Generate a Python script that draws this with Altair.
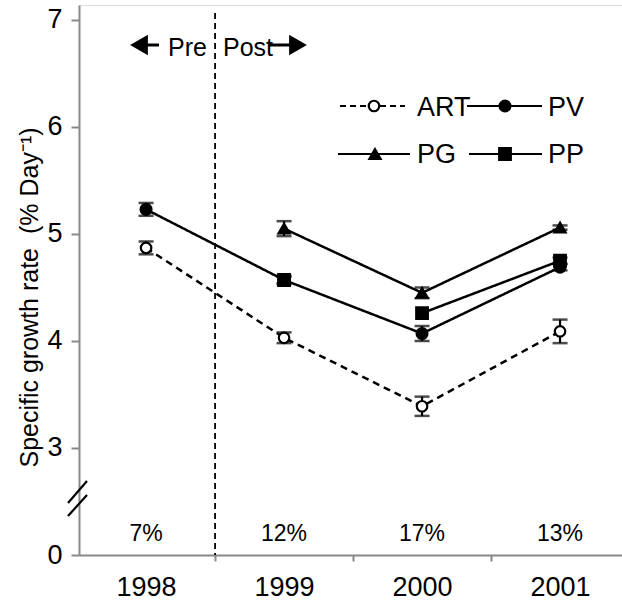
import altair as alt
import pandas as pd

# Specific growth rate per year for each group (mean and error)
years = [1998, 1999, 2000, 2001]
series_names = ["ART", "PV", "PG", "PP"]
art = [4.87, 4.03, 3.39, 4.09]
art_err = [0.06, 0.05, 0.09, 0.11]
pv = [5.23, 4.57, 4.07, 4.69]
pv_err = [0.06, 0.03, 0.07, 0.03]
pg = [None, 5.05, 4.45, 5.06]
pg_err = [None, 0.07, 0.05, 0.02]
pp = [None, 4.57, 4.26, 4.75]
pp_err = [None, 0.04, 0.0, 0.03]
pct_labels = ["7%", "12%", "17%", "13%"]
boundary_year = 1998.5  # pre / post split

FONT = "Liberation Sans"

rows = []
for name, vals, errs in [("ART", art, art_err), ("PV", pv, pv_err),
                         ("PG", pg, pg_err), ("PP", pp, pp_err)]:
    for i, (yr, v, e) in enumerate(zip(years, vals, errs)):
        if v is None:
            continue
        # PP is only joined from 2000 onward
        joined = not (name == "PP" and yr == 1999)
        rows.append({"series": name, "year": yr, "value": v,
                     "lo": v - e, "hi": v + e, "err": e,
                     "joined": joined, "order": i})
df = pd.DataFrame(rows)

xscale = alt.Scale(domain=[1997.514, 2001.449], nice=False, zero=False)
xaxis = alt.Axis(
    values=[1998, 1998.5, 1999, 1999.5, 2000, 2000.5, 2001],
    labelExpr="datum.value % 1 == 0 ? toString(datum.value) : ''",
    tickOpacity={"condition": {"test": "datum.value % 1 == 0", "value": 0}, "value": 1},
    title=None, grid=False, tickSize=6, tickWidth=2, domainWidth=2,
    labelFontSize=27, labelPadding=13, labelFlush=False, labelOverlap=False,
    labelBound=False,
)
yscale = alt.Scale(domain=[2, 7.14], nice=False, zero=False)
yaxis = alt.Axis(
    values=[2, 3, 4, 5, 6, 7],
    labelExpr="datum.value == 2 ? '0' : datum.label",
    title="Specific growth rate\u00a0\u00a0(% Day⁻¹)",
    titleFontSize=25, titleFontWeight="normal", titleX=-42, titleY=292,
    titleAngle=270, titleAlign="center", titleBaseline="alphabetic",
    tickSize=8, tickWidth=2, domainWidth=2, labelFontSize=27, labelPadding=9,
    grid=False,
)


def X(field="year"):
    return alt.X(f"{field}:Q", scale=xscale, axis=xaxis)


def Y(field):
    return alt.Y(f"{field}:Q", scale=yscale, axis=yaxis)


dash_scale = alt.Scale(domain=series_names, range=[[7, 5], [1, 0], [1, 0], [1, 0]])
shape_scale = alt.Scale(domain=series_names, range=["circle", "circle", "triangle-up", "square"])
fill_scale = alt.Scale(domain=series_names, range=["white", "black", "black", "black"])
size_scale = alt.Scale(domain=series_names, range=[110, 135, 180, 160])

base = alt.Chart(df)

boundary = alt.Chart(pd.DataFrame({"year": [boundary_year]})).mark_rule(
    color="black", strokeWidth=1.8, strokeDash=[6, 4]
).encode(x=X(), y=alt.value(8), y2=alt.value(550))

lines = base.transform_filter("datum.joined").mark_line(
    color="black", strokeWidth=2.5
).encode(
    x=X(), y=Y("value"), detail="series:N", order="year:Q",
    strokeDash=alt.StrokeDash("series:N", scale=dash_scale, legend=None),
)

err_df = base.transform_filter("datum.err > 0")
err_rules = err_df.mark_rule(color="black", strokeWidth=2.2).encode(
    x=X(), y=Y("lo"), y2="hi:Q")
caps_lo = err_df.mark_tick(orient="horizontal", size=15, thickness=2.5, color="black").encode(
    x=X(), y=Y("lo"))
caps_hi = err_df.mark_tick(orient="horizontal", size=15, thickness=2.5, color="black").encode(
    x=X(), y=Y("hi"))

points = base.mark_point(stroke="black", strokeWidth=2.2, opacity=1, fillOpacity=1).encode(
    x=X(), y=Y("value"),
    shape=alt.Shape("series:N", scale=shape_scale, legend=None),
    fill=alt.Fill("series:N", scale=fill_scale, legend=None),
    size=alt.Size("series:N", scale=size_scale, legend=None),
)

pct = alt.Chart(pd.DataFrame({"year": years, "pct": pct_labels})).mark_text(
    font=FONT, fontSize=23, baseline="alphabetic", align="center", color="black"
).encode(x=X(), y=alt.value(536), text="pct:N")

# axis break marks
one = pd.DataFrame({"k": [0]})
slash1 = alt.Chart(one).mark_rule(color="black", strokeWidth=2.2).encode(
    x=alt.value(-11), x2=alt.value(8), y=alt.value(498), y2=alt.value(476))
slash2 = alt.Chart(one).mark_rule(color="black", strokeWidth=2.2).encode(
    x=alt.value(-11), x2=alt.value(8), y=alt.value(511), y2=alt.value(490))

# legend (two rows, two columns)
leg = pd.DataFrame({
    "series": ["ART", "PV", "PG", "PP"],
    "x1": [261, 388, 259, 390],
    "x2": [326, 463, 331, 463],
    "xm": [295, 426, 296, 426],
    "xt": [338, 469, 338, 469],
    "ym": [101, 101, 149, 149],
    "yt": [111, 111, 158, 158],
})
px = lambda f: alt.X(f"{f}:Q", scale=None, axis=None)
py = lambda f: alt.Y(f"{f}:Q", scale=None, axis=None)
leg_lines = alt.Chart(leg).mark_rule(color="black", strokeWidth=2.2).encode(
    x=px("x1"), x2="x2:Q", y=py("ym"),
    strokeDash=alt.StrokeDash("series:N", scale=alt.Scale(
        domain=series_names, range=[[6, 4], [1, 0], [1, 0], [1, 0]]), legend=None),
)
leg_points = alt.Chart(leg).mark_point(stroke="black", strokeWidth=2.2, opacity=1, fillOpacity=1).encode(
    x=px("xm"), y=py("ym"),
    shape=alt.Shape("series:N", scale=shape_scale, legend=None),
    fill=alt.Fill("series:N", scale=fill_scale, legend=None),
    size=alt.Size("series:N", scale=size_scale, legend=None),
)
leg_text = alt.Chart(leg).mark_text(
    font=FONT, fontSize=27, align="left", baseline="alphabetic", color="black"
).encode(x=px("xt"), y=py("yt"), text="series:N")

# Pre / Post arrows
arrows = pd.DataFrame({
    "x1": [64, 190], "x2": [80, 212], "xh": [60, 219],
    "shape": ["triangle-left", "triangle-right"],
    "label": ["Pre", "Post"], "xt": [89, 144],
})
arrow_shafts = alt.Chart(arrows).mark_rule(color="black", strokeWidth=3).encode(
    x=px("x1"), x2="x2:Q", y=alt.value(40))
arrow_heads = alt.Chart(arrows).mark_point(filled=True, color="black", opacity=1, size=420).encode(
    x=px("xh"), y=alt.value(40), shape=alt.Shape("shape:N", scale=None, legend=None))
arrow_text = alt.Chart(arrows).mark_text(
    font=FONT, fontSize=25, align="left", baseline="alphabetic", color="black"
).encode(x=px("xt"), y=alt.value(51), text="label:N")

chart = alt.layer(
    boundary, lines, err_rules, caps_lo, caps_hi, points, pct,
    slash1, slash2, leg_lines, leg_points, leg_text,
    arrow_shafts, arrow_heads, arrow_text,
).resolve_scale(
    shape="independent", fill="independent", size="independent", strokeDash="independent"
).properties(
    width=543, height=550,
    autosize=alt.AutoSizeParams(type="none"),
    padding={"left": 79, "top": 5, "right": 0, "bottom": 51},
).configure_view(stroke=None).configure_axis(
    labelFont=FONT, titleFont=FONT, labelColor="black", titleColor="black",
    domainColor="black", tickColor="black",
).configure(background="white")

chart.save("out.html", embed_options={"renderer": "svg", "actions": False})
